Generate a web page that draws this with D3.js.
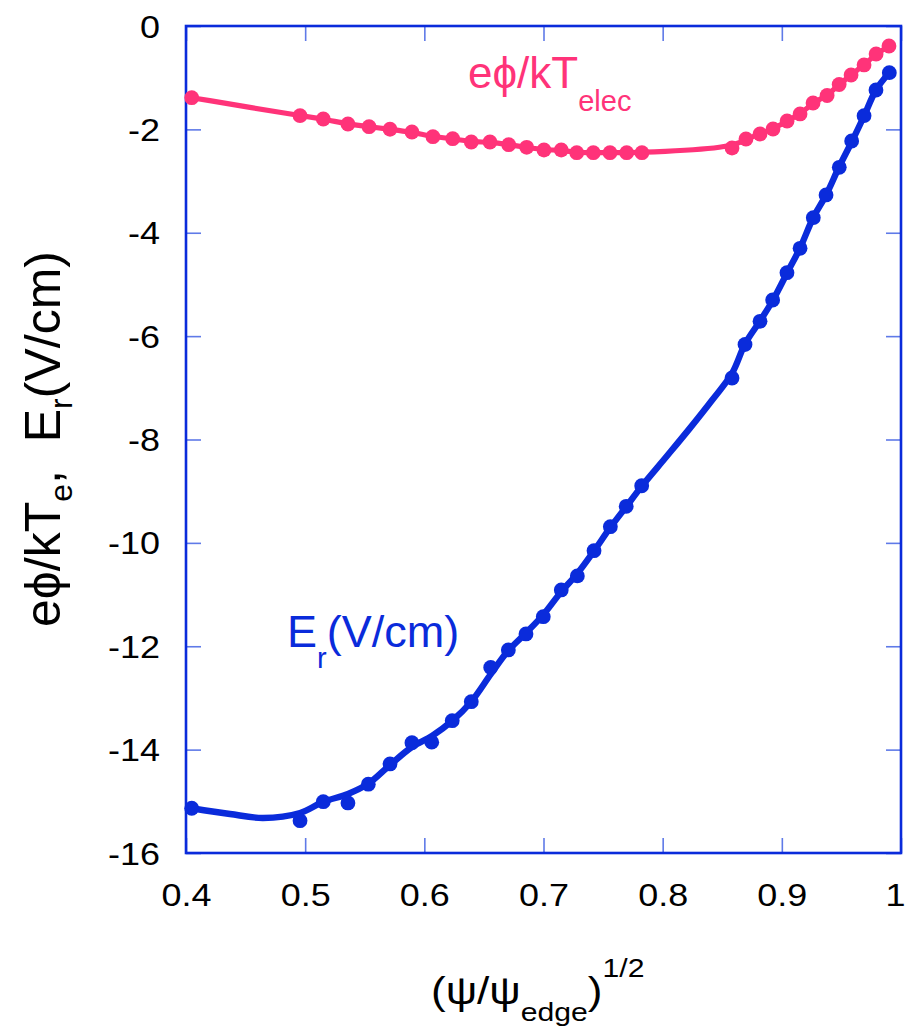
<!DOCTYPE html>
<html>
<head>
<meta charset="utf-8">
<script src="https://cdn.jsdelivr.net/npm/d3@7"></script>
<style>
  html, body { margin: 0; padding: 0; background: #fff; }
  svg { display: block; font-family: "Liberation Sans", Arial, Helvetica, sans-serif; }
</style>
</head>
<body>
<svg id="chart" width="905" height="1029"></svg>
<script>
// Normalised flux coordinate (psi/psi_edge)^(1/2) and electric potential e*phi/kT_elec
const phiX = [0.4048, 0.4957, 0.5152, 0.5359, 0.5536, 0.5712, 0.5896, 0.6072, 0.6238, 0.6394,
              0.6551, 0.6708, 0.6859, 0.7004, 0.7149, 0.7279, 0.7418, 0.7558, 0.7698, 0.7826,
              0.8582, 0.8699, 0.8817, 0.8926, 0.9044, 0.9153, 0.9262, 0.9380, 0.9481, 0.9581,
              0.9690, 0.9791, 0.9899];
const phiY = [-1.387, -1.735, -1.799, -1.896, -1.948, -1.998, -2.051, -2.142, -2.180, -2.244,
              -2.244, -2.296, -2.347, -2.399, -2.399, -2.451, -2.451, -2.451, -2.451, -2.451,
              -2.360, -2.186, -2.089, -1.993, -1.838, -1.702, -1.490, -1.345, -1.132, -0.948,
              -0.754, -0.542, -0.387];

// Radial electric field E_r in V/cm (measured points)
const erX = [0.4048, 0.4957, 0.5152, 0.5359, 0.5530, 0.5712, 0.5896, 0.6062, 0.6234, 0.6394,
             0.6557, 0.6705, 0.6853, 0.6998, 0.7149, 0.7284, 0.7424, 0.7561, 0.7694, 0.7824,
             0.8582, 0.8691, 0.8817, 0.8923, 0.9043, 0.9153, 0.9264, 0.9371, 0.9482, 0.9586,
             0.9690, 0.9790, 0.9902];
const erY = [-15.134, -15.375, -15.007, -15.032, -14.668, -14.277, -13.865, -13.855, -13.440, -13.072,
             -12.410, -12.072, -11.762, -11.428, -10.911, -10.640, -10.151, -9.687, -9.292, -8.895,
             -6.810, -6.162, -5.713, -5.301, -4.773, -4.301, -3.709, -3.269, -2.734, -2.225,
             -1.735, -1.238, -0.903];

// Smoothed E_r profile drawn through the measurements
const erFitX = [0.4048, 0.4369, 0.4646, 0.4957, 0.5150, 0.5359, 0.5527, 0.5712, 0.5896, 0.6064,
                0.6232, 0.6392, 0.6559, 0.6702, 0.6853, 0.6996, 0.7147, 0.7281, 0.7424, 0.7558,
                0.7692, 0.7826, 0.8036, 0.8229, 0.8414, 0.8582, 0.8691, 0.8817, 0.8926, 0.9044,
                0.9153, 0.9262, 0.9371, 0.9480, 0.9590, 0.9690, 0.9790, 0.9899];
const erFitY = [-15.134, -15.245, -15.322, -15.226, -15.013, -14.858, -14.664, -14.297, -13.949, -13.736,
                -13.446, -13.078, -12.536, -12.091, -11.743, -11.395, -10.950, -10.602, -10.157, -9.712,
                -9.306, -8.899, -8.320, -7.780, -7.240, -6.720, -6.152, -5.707, -5.301, -4.778,
                -4.295, -3.714, -3.270, -2.728, -2.225, -1.741, -1.238, -0.909];

const xTicks = [0.4, 0.5, 0.6, 0.7, 0.8, 0.9, 1];
const xTickLabels = ["0.4", "0.5", "0.6", "0.7", "0.8", "0.9", "1"];
const yTicks = [0, -2, -4, -6, -8, -10, -12, -14, -16];
const yTickLabels = ["0", "-2", "-4", "-6", "-8", "-10", "-12", "-14", "-16"];

const BLUE = "#0a2bdb";
const PINK = "#ff3379";
const TICK = "#5f7ae8";

const svg = d3.select("#chart");
const plot = { left: 186, right: 901, top: 26, bottom: 853 };

const x = d3.scaleLinear().domain([0.4, 1]).range([plot.left, plot.right]);
const y = d3.scaleLinear().domain([-16, 0]).range([plot.bottom, plot.top]);

// inward ticks on all four sides
const tickLen = 15;
function styleAxis(g) {
  g.select(".domain").remove();
  g.selectAll(".tick line").attr("stroke", TICK).attr("stroke-width", 1.6);
}
svg.append("g").attr("transform", `translate(0,${plot.bottom})`)
  .call(d3.axisBottom(x).tickValues(xTicks).tickSize(-tickLen)
        .tickFormat((d, i) => xTickLabels[i]))
  .call(styleAxis)
  .call(g => g.selectAll(".tick text")
      .attr("x", null).attr("y", null).attr("dy", null)
      .attr("transform", (d, i) => `translate(${i === xTicks.length - 1 ? -6 : 0},53) scale(1.16,1)`)
      .attr("fill", "#000").attr("font-size", 31)
      .attr("font-family", "Liberation Sans, Arial, sans-serif"));
svg.append("g").attr("transform", `translate(0,${plot.top})`)
  .call(d3.axisTop(x).tickValues(xTicks).tickSize(-tickLen).tickFormat(""))
  .call(styleAxis);
svg.append("g").attr("transform", `translate(${plot.left},0)`)
  .call(d3.axisLeft(y).tickValues(yTicks).tickSize(-tickLen)
        .tickFormat((d, i) => yTickLabels[i]))
  .call(styleAxis)
  .call(g => g.selectAll(".tick text")
      .attr("x", null).attr("y", null).attr("dy", null)
      .attr("text-anchor", "end")
      .attr("transform", "translate(-26,11) scale(1.16,1)")
      .attr("fill", "#000").attr("font-size", 31)
      .attr("font-family", "Liberation Sans, Arial, sans-serif"));
svg.append("g").attr("transform", `translate(${plot.right},0)`)
  .call(d3.axisRight(y).tickValues(yTicks).tickSize(-tickLen).tickFormat(""))
  .call(styleAxis);

// plot frame
svg.append("rect")
  .attr("x", plot.left).attr("y", plot.top)
  .attr("width", plot.right - plot.left).attr("height", plot.bottom - plot.top)
  .attr("fill", "none").attr("stroke", BLUE).attr("stroke-width", 2.6);

// series: a smooth line plus the measured points
const series = [
  { xs: phiX, ys: phiY, lx: phiX, ly: phiY, color: PINK, width: 5.2, curve: d3.curveBasis },
  { xs: erX, ys: erY, lx: erFitX, ly: erFitY, color: BLUE, width: 6.4, curve: d3.curveCatmullRom.alpha(0.5) }
];
series.forEach(s => {
  const pts = s.xs.map((v, i) => [v, s.ys[i]]);
  const linePts = s.lx.map((v, i) => [v, s.ly[i]]);
  const line = d3.line().x(d => x(d[0])).y(d => y(d[1])).curve(s.curve);
  svg.append("path").datum(linePts)
    .attr("d", line)
    .attr("fill", "none").attr("stroke", s.color)
    .attr("stroke-width", s.width).attr("stroke-linejoin", "round");
  svg.append("g").selectAll("circle").data(pts).join("circle")
    .attr("cx", d => x(d[0])).attr("cy", d => y(d[1]))
    .attr("r", 7.4).attr("fill", s.color);
});

// in-plot series labels
const phiLabel = svg.append("text").attr("x", 468).attr("y", 88)
  .attr("fill", PINK).attr("font-size", 44);
phiLabel.append("tspan").text("e\u03D5/kT");
phiLabel.append("tspan").attr("font-size", 29).attr("dy", 23).text("elec");

const erLabel = svg.append("text").attr("x", 287).attr("y", 647)
  .attr("fill", BLUE).attr("font-size", 45);
erLabel.append("tspan").text("E");
erLabel.append("tspan").attr("font-size", 29).attr("dy", 21).text("r");
erLabel.append("tspan").attr("dy", -21).text("(V/cm)");

// axis titles
const xTitle = svg.append("text")
  .attr("transform", "translate(431,1004) scale(1.16,1)")
  .attr("fill", "#000").attr("font-size", 38);
xTitle.append("tspan").text("(\u03C8/\u03C8");
xTitle.append("tspan").attr("font-size", 26).attr("dy", 17).text("edge");
xTitle.append("tspan").attr("dy", -17).text(")");
xTitle.append("tspan").attr("font-size", 26).attr("dy", -27).text("1/2");

const yTitle = svg.append("text")
  .attr("transform", "translate(60,439) rotate(-90)")
  .attr("text-anchor", "middle")
  .attr("fill", "#000").attr("font-size", 50);
yTitle.append("tspan").text("e\u03D5/kT");
yTitle.append("tspan").attr("font-size", 32).attr("dy", 12).text("e");
yTitle.append("tspan").attr("dy", -12).text(",\u00A0\u00A0E");
yTitle.append("tspan").attr("font-size", 32).attr("dy", 12).text("r");
yTitle.append("tspan").attr("dy", -12).text("(V/cm)");
</script>
</body>
</html>
